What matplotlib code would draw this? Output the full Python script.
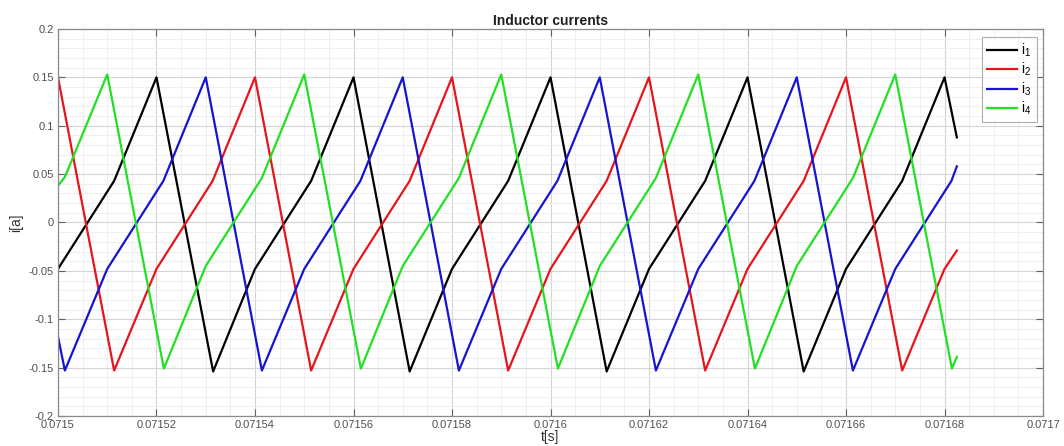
import numpy as np
import matplotlib
matplotlib.use('Agg')
import matplotlib.pyplot as plt
from matplotlib.ticker import MultipleLocator

# ---- data (t in seconds, current in A) ----
t_i1 = [0.0715000, 0.0715114, 0.0715200, 0.0715315, 0.0715400, 0.0715514,
        0.0715600, 0.0715714, 0.0715800, 0.0715914, 0.0716000, 0.0716114,
        0.0716200, 0.0716314, 0.0716400, 0.0716514, 0.0716600, 0.0716714,
        0.0716800, 0.0716825]
i1 = [-0.048, 0.043, 0.150, -0.154, -0.048, 0.043,
      0.150, -0.154, -0.048, 0.043, 0.150, -0.154,
      -0.048, 0.043, 0.150, -0.154, -0.048, 0.043,
      0.150, 0.088]

t_i2 = [0.0715000, 0.0715114, 0.0715200, 0.0715314, 0.0715400, 0.0715514,
        0.0715600, 0.0715714, 0.0715800, 0.0715914, 0.0716000, 0.0716114,
        0.0716200, 0.0716314, 0.0716400, 0.0716514, 0.0716600, 0.0716714,
        0.0716800, 0.0716825]
i2 = [0.150, -0.153, -0.048, 0.043, 0.150, -0.153,
      -0.048, 0.043, 0.150, -0.153, -0.048, 0.043,
      0.150, -0.153, -0.048, 0.043, 0.150, -0.153,
      -0.048, -0.029]

t_i3 = [0.0715000, 0.0715014, 0.0715100, 0.0715214, 0.0715300, 0.0715414,
        0.0715500, 0.0715614, 0.0715700, 0.0715814, 0.0715900, 0.0716014,
        0.0716100, 0.0716214, 0.0716300, 0.0716414, 0.0716500, 0.0716614,
        0.0716700, 0.0716814, 0.0716825]
i3 = [-0.118, -0.153, -0.048, 0.043, 0.150, -0.153,
      -0.048, 0.043, 0.150, -0.153, -0.048, 0.043,
      0.150, -0.153, -0.048, 0.043, 0.150, -0.153,
      -0.048, 0.043, 0.058]

t_i4 = [0.0715000, 0.0715014, 0.0715100, 0.0715215, 0.0715300, 0.0715414,
        0.0715500, 0.0715615, 0.0715700, 0.0715814, 0.0715900, 0.0716015,
        0.0716100, 0.0716214, 0.0716300, 0.0716415, 0.0716500, 0.0716614,
        0.0716700, 0.0716815, 0.0716825]
i4 = [0.038, 0.047, 0.153, -0.151, -0.045, 0.046,
      0.153, -0.151, -0.045, 0.046, 0.153, -0.151,
      -0.045, 0.046, 0.153, -0.151, -0.045, 0.046,
      0.153, -0.151, -0.139]

x_ticks = [0.0715, 0.07152, 0.07154, 0.07156, 0.07158, 0.0716,
           0.07162, 0.07164, 0.07166, 0.07168, 0.0717]
x_labels = ['0.0715', '0.07152', '0.07154', '0.07156', '0.07158', '0.0716',
            '0.07162', '0.07164', '0.07166', '0.07168', '0.0717']
y_ticks = [-0.2, -0.15, -0.1, -0.05, 0, 0.05, 0.1, 0.15, 0.2]
y_labels = ['-0.2', '-0.15', '-0.1', '-0.05', '0', '0.05', '0.1', '0.15', '0.2']

series = [
    (t_i1, i1, '#000000', r'$\mathregular{i_1}$'),
    (t_i2, i2, '#e8141c', r'$\mathregular{i_2}$'),
    (t_i3, i3, '#1414d2', r'$\mathregular{i_3}$'),
    (t_i4, i4, '#22e022', r'$\mathregular{i_4}$'),
]

plt.rcParams['font.family'] = ['Liberation Sans', 'DejaVu Sans']

fig = plt.figure(figsize=(10.64, 4.46), dpi=100)
ax = fig.add_axes([0.0545, 0.0673, 0.9258, 0.8677])

for t, v, col, lab in series:
    ax.plot(t, v, color=col, linewidth=1.6, label=lab)

ax.set_xlim(0.0715, 0.0717)
ax.set_ylim(-0.2, 0.2)
ax.set_xticks(x_ticks)
ax.set_xticklabels(x_labels)
ax.set_yticks(y_ticks)
ax.set_yticklabels(y_labels)
ax.xaxis.set_minor_locator(MultipleLocator(0.000005))
ax.yaxis.set_minor_locator(MultipleLocator(0.01))

ax.grid(which='major', color='#d4d4d4', linewidth=0.8)
ax.grid(which='minor', color='#ececec', linewidth=0.6)
ax.set_axisbelow(True)

ax.tick_params(which='major', direction='in', top=True, right=True,
               length=5, width=0.8, color='#606060',
               labelsize=8, labelcolor='#505050', pad=3)
ax.tick_params(which='minor', length=0)
for sp in ax.spines.values():
    sp.set_color('#8a8a8a')
    sp.set_linewidth(0.9)

ax.set_title('Inductor currents', fontsize=10, fontweight='bold',
             color='#202020', pad=3)
ax.set_xlabel('t[s]', fontsize=10, color='#303030', labelpad=0)
ax.set_ylabel('i[a]', fontsize=10, color='#303030', labelpad=4)

leg = ax.legend(loc='upper right', bbox_to_anchor=(0.9935, 0.98),
                fontsize=10, frameon=True, fancybox=False,
                edgecolor='#9a9a9a', handlelength=2.2, handletextpad=0.3,
                labelspacing=0.15, borderpad=0.35, borderaxespad=0)
leg.get_frame().set_linewidth(0.8)

fig.savefig('out.png', dpi=100, facecolor='white')
